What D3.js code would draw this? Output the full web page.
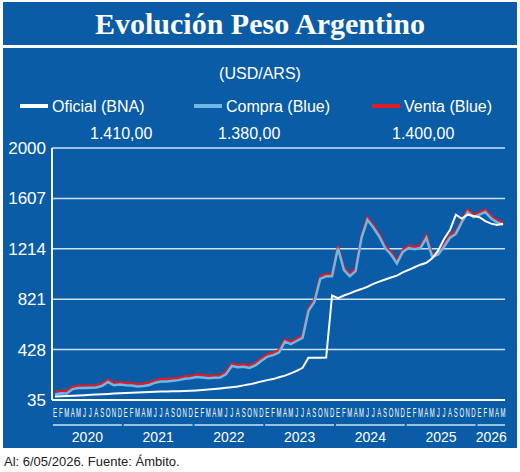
<!DOCTYPE html><html><head><meta charset="utf-8">
<script src="https://cdn.jsdelivr.net/npm/d3@7"></script>
<style>body{margin:0;background:#fff}svg{display:block;font-family:"Liberation Sans",Arial,sans-serif}</style></head><body>
<svg id="c" width="520" height="472"></svg>
<script>
// monthly data Jan 2020 .. May 2026
const startYear = 2020;
const oficial = [63,65,67,69,71,73,75,77,79,82,85,88, 90,92,94,96,98,99,101,102,103,104,105,107, 110,113,117,121,125,130,135,141,149,157,167,180, 190,198,212,225,243,262,286,365,365,365,366,850, 830,850,866,885,900,918,940,958,975,990,1005,1030, 1050,1070,1090,1105,1140,1200,1290,1360,1480,1450,1480,1470, 1460,1430,1410,1400,1410];
const compra = [78,88,85,120,128,128,130,133,145,175,150,155, 150,148,140,145,152,170,180,180,185,190,200,205, 215,210,205,208,210,235,300,290,295,285,305,340, 372,385,405,490,470,495,520,730,800,980,1000,1000, 1220,1050,1000,1040,1300,1440,1380,1310,1220,1170,1100,1190, 1220,1210,1220,1300,1150,1170,1230,1300,1330,1420,1500,1460, 1480,1500,1450,1420,1400];
const venta = compra.map(v=>v+18);
const yTicks = [35,428,821,1214,1607,2000];
const monthLabels = ["E","F","M","A","M","J","J","A","S","O","N","D"];
const years = ["2020","2021","2022","2023","2024","2025","2026"];
const lastValues = ["1.410,00","1.380,00","1.400,00"];

const svg = d3.select("#c");
const blue = "#0a5ca6";
svg.append("rect").attr("x",3).attr("y",2).attr("width",514).attr("height",43).attr("fill",blue);
svg.append("text").attr("x",260).attr("y",34).attr("text-anchor","middle").attr("fill","#fff")
 .attr("font-family","Liberation Serif,serif").attr("font-weight","bold").attr("font-size",30).text("Evolución Peso Argentino");
svg.append("rect").attr("x",3).attr("y",48).attr("width",514).attr("height",400).attr("fill",blue);
svg.append("text").attr("x",260).attr("y",79).attr("text-anchor","middle").attr("fill","#fff").attr("font-size",16).text("(USD/ARS)");

const n = oficial.length;
const x = d3.scaleLinear().domain([0,n-1]).range([55,503]);
const y = d3.scaleLinear().domain([35,2000]).range([400,148]);
const g = svg.append("g");
yTicks.forEach(t=>{
  if(t!==35) g.append("line").attr("x1",52).attr("x2",505).attr("y1",y(t)).attr("y2",y(t)).attr("stroke","#cfe3f5").attr("stroke-width",1.5);
  g.append("text").attr("x",46).attr("y",y(t)+6).attr("text-anchor","end").attr("fill","#fff").attr("font-size",17).text(t);
});
g.append("line").attr("x1",52).attr("x2",505).attr("y1",400).attr("y2",400).attr("stroke","#fff").attr("stroke-width",2);
g.append("line").attr("x1",52).attr("x2",52).attr("y1",148).attr("y2",400).attr("stroke","#fff").attr("stroke-width",2);

const line = arr => d3.line().x((d,i)=>x(i)).y(d=>y(d))(arr);
g.append("path").attr("d",line(venta)).attr("fill","none").attr("stroke","#e01b24").attr("stroke-width",2.5);
g.append("path").attr("d",line(compra)).attr("fill","none").attr("stroke","#6fb8e6").attr("stroke-width",2.5);
g.append("path").attr("d",line(oficial)).attr("fill","none").attr("stroke","#fff").attr("stroke-width",2);

// months
for(let i=0;i<n;i++){
  g.append("text").attr("x",x(i)).attr("y",417).attr("text-anchor","middle").attr("fill","#fff")
   .attr("font-size",12).attr("transform",`translate(${x(i)},0) scale(0.5,1) translate(${-x(i)},0)`).text(monthLabels[i%12]);
}
years.forEach((yr,k)=>{
  const a = k*12, b = Math.min(k*12+11,n-1);
  g.append("line").attr("x1",x(a)-2).attr("x2",x(b)+2).attr("y1",425).attr("y2",425).attr("stroke","#cfe3f5").attr("stroke-width",1.5);
  g.append("text").attr("x",(x(a)+x(b))/2).attr("y",442).attr("text-anchor","middle").attr("fill","#fff").attr("font-size",14).text(yr);
});

// legend
const leg = [["Oficial (BNA)","#fff",20,112],["Compra (Blue)","#6fb8e6",194,240],["Venta (Blue)","#e01b24",372,410]];
leg.forEach((l,i)=>{
  svg.append("line").attr("x1",l[2]).attr("x2",l[2]+28).attr("y1",106).attr("y2",106).attr("stroke",l[1]).attr("stroke-width",4);
  svg.append("text").attr("x",l[2]+32).attr("y",112).attr("fill","#fff").attr("font-size",16).text(l[0]);
  svg.append("text").attr("x",l[3]).attr("y",139).attr("fill","#fff").attr("font-size",16).text(lastValues[i]).attr("dx", i==2?-18:-22);
});
svg.append("text").attr("x",4).attr("y",466).attr("fill","#222").attr("font-size",13).text("Al: 6/05/2026. Fuente: Ámbito.");
</script></body></html>
